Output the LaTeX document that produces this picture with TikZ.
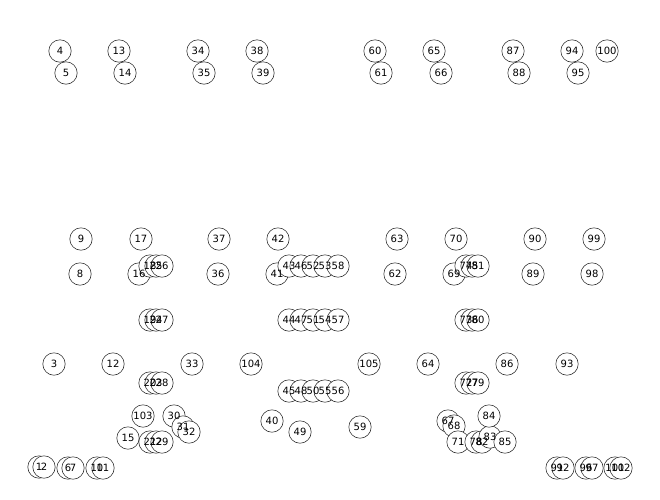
\documentclass[tikz,border=0pt]{standalone}
\usepackage{fontspec}
\setmainfont{DejaVu Sans}

\begin{document}
\begin{tikzpicture}[x=1pt, y=-1pt,
    vertex/.style={circle, draw=black!80, fill=white, line width=0.6pt, minimum size=22.4pt, inner sep=0pt},
    num/.style={font=\fontsize{10}{12}\selectfont, inner sep=0pt}]
    \useasboundingbox (0,0) rectangle (660,499);

    % circles first, numbers on top afterwards
    \foreach \n/\x/\y in {
        1/39/467, 2/44/467, 3/54/364, 4/60/51, 5/66/73, 6/68/468, 7/73/468,
        8/80/274, 9/81/239, 10/97/468, 11/103/468, 12/113/364, 13/119/51,
        14/125/73, 15/128/438, 16/139/274, 17/141/239,
        18/150/266, 19/150/320, 20/150/383, 21/150/442,
        22/156/442, 23/156/383, 24/156/320, 25/156/266,
        26/162/266, 27/162/320, 28/162/383, 29/162/442,
        30/174/416, 31/183/427, 32/189/432, 33/192/364, 34/198/51, 35/204/73,
        36/218/274, 37/219/239, 38/257/51, 39/263/73, 40/272/421, 41/277/274,
        42/278/239,
        43/289/266, 44/289/320, 45/289/391, 46/301/266, 47/301/320, 48/301/391,
        49/300/432, 50/313/391, 51/313/320, 52/313/266, 53/325/266, 54/325/320,
        55/325/391, 56/338/391, 57/338/320, 58/338/266,
        59/360/427, 60/375/51, 61/381/73, 62/395/274, 63/397/239, 64/428/364,
        65/434/51, 66/441/73, 67/448/421, 68/454/426, 69/454/274, 70/456/239,
        71/458/442,
        72/466/383, 73/466/320, 74/466/266, 75/472/266, 76/472/320, 77/472/383,
        78/476/442, 79/478/383, 80/478/320, 81/478/266, 82/482/442,
        83/490/437, 84/489/416, 85/505/442, 86/507/364, 87/513/51, 88/519/73,
        89/533/274, 90/535/239, 91/557/468, 92/563/468, 93/567/364, 94/572/51,
        95/578/73, 96/586/468, 97/592/468, 98/592/274, 99/594/239, 100/607/51,
        101/615/468, 102/621/468, 103/143/416, 104/251/364, 105/369/364}
        \node[vertex] (v\n) at (\x,\y) {};

    \foreach \n in {1,...,105}
        \node[num] at (v\n) {\n};
\end{tikzpicture}
\end{document}
